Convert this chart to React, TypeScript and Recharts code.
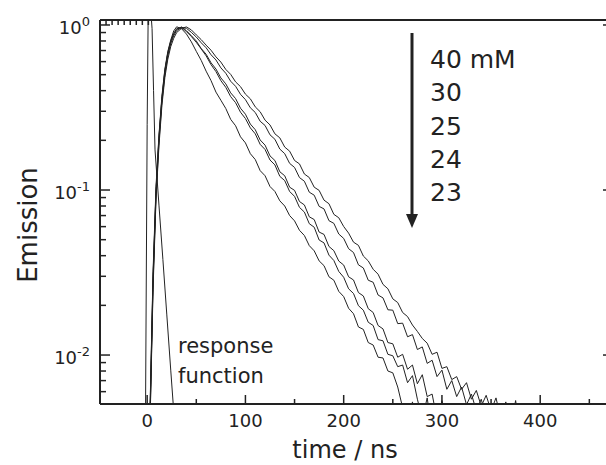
import { LineChart, Line, XAxis, YAxis, Customized } from 'recharts';

const FONT = 'DejaVu Sans';
const INK = '#222';

// time axis shared by the five decays (ns)
const times = [
  0, 3, 6, 9, 12, 15, 18, 21, 24, 27, 30,
  35, 40, 45, 50, 55, 60, 65, 70, 75, 80,
  85, 90, 95, 100, 105, 110, 115, 120, 125, 130,
  135, 140, 145, 150, 155, 160, 165, 170, 175, 180,
  185, 190, 195, 200, 205, 210, 215, 220, 225, 230,
  235, 240, 245, 250, 255, 260, 265, 270, 275, 280,
  285, 290, 295, 300, 305, 310, 315, 320, 325, 330,
  335, 340, 345, 350, 355, 360, 365, 370, 375, 380,
  385, 390, 395, 400,
];

const emission40 = [
  0.002, 0.004, 0.025, 0.088, 0.185, 0.325, 0.48, 0.62, 0.74, 0.83, 0.9,
  0.955, 0.973, 0.933, 0.871, 0.815, 0.755, 0.703, 0.641, 0.596, 0.538,
  0.502, 0.452, 0.423, 0.381, 0.357, 0.319, 0.298, 0.265, 0.248, 0.219,
  0.207, 0.182, 0.172, 0.151, 0.144, 0.125, 0.119, 0.104, 0.0995, 0.0868,
  0.0826, 0.0712, 0.0679, 0.0601, 0.0548, 0.0483, 0.0462, 0.0398, 0.0372, 0.0331,
  0.0309, 0.0268, 0.0252, 0.0219, 0.0208, 0.0181, 0.0171, 0.0152, 0.0139, 0.0126,
  0.0118, 0.0101, 0.0104, 0.0083, 0.0085, 0.0071, 0.0074, 0.0062, 0.0068, 0.0054,
  0.0061, 0.0049, 0.0057, 0.0046, 0.0055, 0.0041, 0.0052, 0.0037, 0.0053, 0.0033,
  0.0051, 0.0032, 0.003, 0.003,
];

const emission30 = [
  0.002, 0.0042, 0.027, 0.092, 0.195, 0.34, 0.5, 0.65, 0.77, 0.86, 0.925,
  0.965, 0.955, 0.902, 0.845, 0.78, 0.728, 0.66, 0.614, 0.55, 0.51,
  0.456, 0.425, 0.38, 0.353, 0.315, 0.295, 0.261, 0.246, 0.216, 0.203,
  0.177, 0.166, 0.145, 0.137, 0.119, 0.113, 0.097, 0.093, 0.0796, 0.0768,
  0.0652, 0.0628, 0.0541, 0.0509, 0.0441, 0.0418, 0.0352, 0.0337, 0.0284, 0.0276,
  0.0231, 0.0222, 0.0188, 0.0187, 0.0155, 0.0156, 0.0129, 0.0133, 0.0108, 0.0112,
  0.0089, 0.0093, 0.0074, 0.0081, 0.0062, 0.007, 0.0056, 0.0064, 0.005, 0.0058,
  0.0046, 0.0054, 0.0041, 0.0051, 0.0037, 0.0034, 0.0049, 0.0031, 0.0029, 0.0046,
  0.0028, 0.0027, 0.0028, 0.0027,
];

const emission25 = [
  0.002, 0.0045, 0.029, 0.098, 0.205, 0.355, 0.52, 0.67, 0.79, 0.88, 0.94,
  0.973, 0.923, 0.861, 0.8, 0.72, 0.665, 0.59, 0.541, 0.478, 0.44,
  0.388, 0.358, 0.313, 0.288, 0.251, 0.232, 0.201, 0.187, 0.161, 0.151,
  0.129, 0.122, 0.104, 0.0995, 0.0852, 0.0812, 0.0688, 0.0662, 0.0556, 0.0538,
  0.0455, 0.0429, 0.0371, 0.0351, 0.0298, 0.0285, 0.0239, 0.0228, 0.0191, 0.0181,
  0.0151, 0.0144, 0.0119, 0.0117, 0.0097, 0.0101, 0.0082, 0.0087, 0.0067, 0.0076,
  0.0056, 0.0058, 0.0041, 0.0052, 0.0035, 0.003, 0.0051, 0.0031, 0.0028, 0.0044,
  0.0028, 0.0027, 0.0028, 0.0027, 0.0028, 0.0027, 0.0028, 0.0027, 0.0028, 0.0027,
  0.0028, 0.0027, 0.0028, 0.0027,
];

const emission24 = [
  0.002, 0.0048, 0.03, 0.1, 0.21, 0.36, 0.53, 0.68, 0.8, 0.89, 0.95,
  0.966, 0.912, 0.851, 0.785, 0.716, 0.65, 0.575, 0.522, 0.46, 0.419,
  0.368, 0.338, 0.296, 0.271, 0.238, 0.219, 0.189, 0.176, 0.152, 0.142,
  0.121, 0.114, 0.098, 0.0915, 0.0785, 0.0735, 0.0625, 0.0595, 0.0498, 0.0478,
  0.0403, 0.0374, 0.0321, 0.0296, 0.0252, 0.0236, 0.0199, 0.0187, 0.0158, 0.0151,
  0.0124, 0.0122, 0.0101, 0.0099, 0.0085, 0.0087, 0.0068, 0.0075, 0.0054, 0.0041,
  0.0055, 0.0034, 0.003, 0.0028, 0.0051, 0.0029, 0.0027, 0.0028, 0.0027, 0.0028,
  0.0027, 0.0028, 0.0027, 0.0028, 0.0027, 0.0028, 0.0027, 0.0028, 0.0027, 0.0028,
  0.0027, 0.0028, 0.0027, 0.0028,
];

const emission23 = [
  0.002, 0.005, 0.032, 0.105, 0.215, 0.37, 0.54, 0.69, 0.81, 0.92, 0.975,
  0.95, 0.881, 0.79, 0.692, 0.61, 0.525, 0.46, 0.392, 0.35, 0.312,
  0.268, 0.245, 0.21, 0.193, 0.166, 0.153, 0.131, 0.122, 0.105, 0.098,
  0.086, 0.08, 0.07, 0.065, 0.057, 0.053, 0.046, 0.0428, 0.0372, 0.0348,
  0.0298, 0.0284, 0.0243, 0.0226, 0.0192, 0.0178, 0.0148, 0.0143, 0.0119, 0.0115,
  0.0097, 0.0096, 0.008, 0.0078, 0.0064, 0.0048, 0.0038, 0.0052, 0.0035, 0.003,
  0.0028, 0.003, 0.0027, 0.0053, 0.0028, 0.0027, 0.0028, 0.0027, 0.0028, 0.0027,
  0.0028, 0.0027, 0.0028, 0.0027, 0.0028, 0.0027, 0.0028, 0.0027, 0.0028, 0.0027,
  0.0028, 0.0027, 0.0028, 0.0027,
];

// instrument response
const responseTimes = [-2, 0, 1, 2, 4, 5, 6.5, 8, 12, 16, 20, 24, 28, 32];
const responseValues = [0.002, 0.25, 1.1, 1.2, 1.15, 0.95, 0.4, 0.175, 0.081, 0.038, 0.0175, 0.0081, 0.0038, 0.0018];

const xTicks = [0, 50, 100, 150, 200, 250, 300, 350, 400, 450];
const topTicks = [0, 1, 2, 3, 4, 5, 6, 7, 8];
const yTicks = [
  1, 0.9, 0.8, 0.7, 0.6, 0.5, 0.4, 0.3, 0.2,
  0.1, 0.09, 0.08, 0.07, 0.06, 0.05, 0.04, 0.03, 0.02,
  0.01, 0.009, 0.008, 0.007, 0.006,
];
const yDecades = [1, 0.1, 0.01];
const concentrations = ['40 mM', '30', '25', '24', '23'];

const rows = times.map((t, i) => ({
  t,
  c40: emission40[i],
  c30: emission30[i],
  c25: emission25[i],
  c24: emission24[i],
  c23: emission23[i],
}));
const responseRows = responseTimes.map((t, i) => ({ t, resp: responseValues[i] }));

const series = ['c40', 'c30', 'c25', 'c24', 'c23'];

function BottomTick(props: any) {
  const { x, y, payload } = props;
  const major = payload.value % 100 === 0;
  return (
    <g>
      <line x1={x} x2={x} y1={y} y2={y - (major ? 9 : 5)} stroke={INK} strokeWidth={1.5} />
      {major && (
        <text x={x} y={y + 23} textAnchor="middle" fontSize={18} fontFamily={FONT} fill={INK}>
          {payload.value}
        </text>
      )}
    </g>
  );
}

function TopTick(props: any) {
  const { x, y } = props;
  return <line x1={x} x2={x} y1={y} y2={y + 5} stroke={INK} strokeWidth={1.5} />;
}

function LeftTick(props: any) {
  const { x, y, payload } = props;
  const major = yDecades.includes(payload.value);
  const exp = Math.round(Math.log10(payload.value));
  return (
    <g>
      <line x1={x} x2={x + (major ? 10 : 6)} y1={y} y2={y} stroke={INK} strokeWidth={1.5} />
      {major && (
        <text x={x - 10} y={y + 9} textAnchor="end" fontSize={18} fontFamily={FONT} fill={INK}>
          10
          <tspan dy={-8} fontSize={13}>{exp === 0 ? '0' : `-${-exp}`}</tspan>
        </text>
      )}
    </g>
  );
}

function RightTick(props: any) {
  const { x, y } = props;
  return <line x1={x} x2={x - 5} y1={y} y2={y} stroke={INK} strokeWidth={1.5} />;
}

function Annotations() {
  return (
    <g fontFamily={FONT} fill={INK}>
      <line x1={412} x2={412} y1={33} y2={217} stroke={INK} strokeWidth={3} />
      <polygon points="406,214 418,214 412,228" fill={INK} />
      {concentrations.map((c, i) => (
        <text key={c} x={430} y={68 + i * 33.3} fontSize={25}>
          {c}
        </text>
      ))}
      <text x={178} y={353} fontSize={21}>response</text>
      <text x={178} y={383} fontSize={21}>function</text>
      <text x={345} y={458} fontSize={24} textAnchor="middle">time / ns</text>
      <text x={37} y={225} fontSize={26} textAnchor="middle" transform="rotate(-90, 37, 225)">
        Emission
      </text>
    </g>
  );
}

export default function App() {
  return (
    <div
      style={{
        position: 'fixed',
        left: 0,
        top: 0,
        width: 606,
        height: 465,
        overflow: 'hidden',
        background: '#fff',
      }}
    >
      <LineChart width={612} height={465} data={rows} margin={{ top: 19, right: 0, bottom: 31, left: 40 }}>
        <XAxis
          xAxisId="main"
          dataKey="t"
          type="number"
          domain={[-48, 469]}
          allowDataOverflow
          ticks={xTicks}
          interval={0}
          tick={(p: any) => <BottomTick {...p} />}
          tickLine={false}
          tickSize={0}
          tickMargin={0}
          height={30}
          axisLine={{ stroke: INK, strokeWidth: 2 }}
        />
        <XAxis
          xAxisId="top"
          orientation="top"
          type="number"
          domain={[-0.996, 8.849]}
          allowDataOverflow
          ticks={topTicks}
          interval={0}
          tick={(p: any) => <TopTick {...p} />}
          tickLine={false}
          tickSize={0}
          tickMargin={0}
          height={1}
          axisLine={{ stroke: INK, strokeWidth: 2 }}
        />
        <YAxis
          yAxisId="left"
          type="number"
          scale="log"
          domain={[0.00505, 1.072]}
          allowDataOverflow
          ticks={yTicks}
          interval={0}
          tick={(p: any) => <LeftTick {...p} />}
          tickLine={false}
          tickSize={0}
          tickMargin={0}
          width={60}
          axisLine={{ stroke: INK, strokeWidth: 2 }}
        />
        <YAxis
          yAxisId="right"
          orientation="right"
          type="number"
          scale="log"
          domain={[0.00505, 1.072]}
          allowDataOverflow
          ticks={yDecades}
          interval={0}
          tick={(p: any) => <RightTick {...p} />}
          tickLine={false}
          tickSize={0}
          tickMargin={0}
          width={4}
          axisLine={{ stroke: INK, strokeWidth: 2 }}
        />
        {series.map((key) => (
          <Line
            key={key}
            xAxisId="main"
            yAxisId="left"
            dataKey={key}
            type="linear"
            stroke={INK}
            strokeWidth={1}
            dot={false}
            isAnimationActive={false}
          />
        ))}
        <Line
          xAxisId="main"
          yAxisId="left"
          data={responseRows}
          dataKey="resp"
          type="linear"
          stroke={INK}
          strokeWidth={1}
          dot={false}
          isAnimationActive={false}
        />
        <Customized component={Annotations} />
      </LineChart>
    </div>
  );
}
